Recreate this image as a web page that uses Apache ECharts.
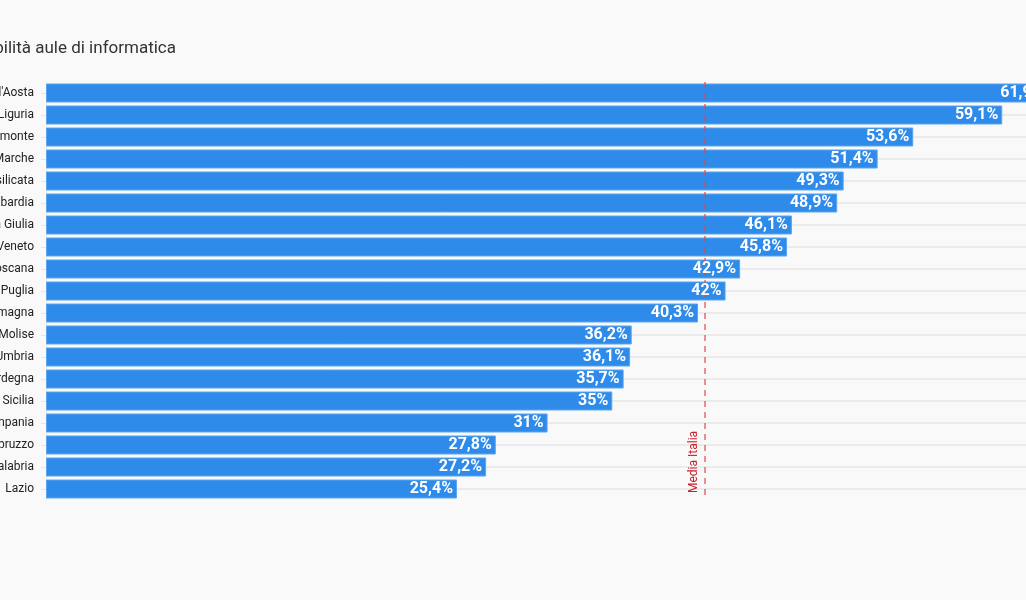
<!DOCTYPE html>
<html><head><meta charset="utf-8">
<script src="https://cdn.jsdelivr.net/npm/echarts@6/dist/echarts.min.js"></script>
<style>html,body{margin:0;padding:0;background:#f9f9f9;}#c{width:1026px;height:600px;}</style>
</head><body><div id="c"></div>
<script>
const categories = ["Valle d'Aosta","Liguria","Piemonte","Marche","Basilicata","Lombardia","Friuli-Venezia Giulia","Veneto","Toscana","Puglia","Emilia-Romagna","Molise","Umbria","Sardegna","Sicilia","Campania","Abruzzo","Calabria","Lazio"];
const values = [61.9,59.1,53.6,51.4,49.3,48.9,46.1,45.8,42.9,42,40.3,36.2,36.1,35.7,35,31,27.8,27.2,25.4];
const mediaItalia = 40.7;
const mediaLabel = "Media Italia";
const titleText = "Disponibilità aule di informatica";

const chart = echarts.init(document.getElementById('c'));
chart.setOption({
  backgroundColor: '#f9f9f9',
  animation: false,
  grid: { left: 46, right: -152.6, top: 82, bottom: 100, containLabel: false, outerBoundsMode: 'none' },
  xAxis: { type: 'value', min: 0, max: 70, show: false, splitLine: {show: false} },
  yAxis: {
    type: 'category', data: categories, inverse: true,
    axisLine: { show: true, lineStyle: { color: '#e6e6e6', width: 1 } },
    axisTick: { show: true, alignWithLabel: true, length: 5, lineStyle: { color: '#e6e6e6' } },
    axisLabel: { margin: 12, color: '#222222', fontFamily: 'Roboto', fontSize: 12 },
    splitLine: { show: true, alignWithLabel: true, lineStyle: { color: '#ebebeb', width: 2 } }
  },
  series: [{
    type: 'bar', data: values, barWidth: 19, z: 2,
    itemStyle: { color: '#2f8be9', borderColor: '#5aa5f0', borderWidth: 1 },
    markLine: {
      symbol: 'none', silent: true,
      lineStyle: { color: '#e0474c', type: [6, 5], width: 1.5, opacity: 0.8 },
      label: { show: false },
      data: [{ xAxis: mediaItalia }]
    }
  }, {
    type: 'bar', data: values, barWidth: 19, barGap: '-100%', z: 5, silent: true,
    itemStyle: { color: 'rgba(0,0,0,0)' },
    label: {
      show: true, position: 'insideRight', distance: 4,
      color: '#ffffff', fontFamily: 'Roboto', fontWeight: 'bold', fontSize: 16,
      formatter: p => String(p.value).replace('.', ',') + '%'
    }
  }]
});
const mx = chart.convertToPixel({ xAxisIndex: 0 }, mediaItalia);
chart.setOption({
  graphic: [{
    type: 'text', right: 850, top: 40, silent: true,
    style: { text: titleText, fill: '#333333', fontFamily: 'Roboto', fontSize: 17, textAlign: 'right' }
  }, {
    type: 'text', x: mx - 5, y: 493, rotation: Math.PI / 2, silent: true,
    style: { text: mediaLabel, fill: '#c8202c', fontFamily: 'Roboto', fontSize: 12, textAlign: 'left', textVerticalAlign: 'bottom' }
  }]
});
</script></body></html>
